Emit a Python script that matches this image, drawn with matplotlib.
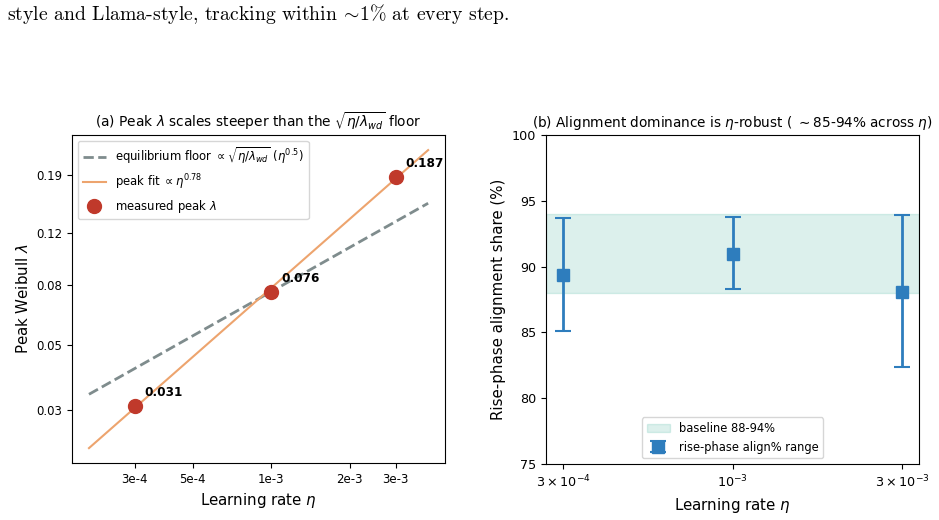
import matplotlib
matplotlib.use('Agg')
import matplotlib.pyplot as plt
import numpy as np
from matplotlib.ticker import NullLocator, FixedLocator, FixedFormatter

plt.rcParams['mathtext.fontset'] = 'dejavusans'

# (a) peak Weibull lambda vs learning rate
lr = [3e-4, 1e-3, 3e-3]
peak_lam = [0.031, 0.076, 0.187]
lr_line = [2e-4, 4e-3]
floor_exp = 0.5
a_xticks = [3e-4, 5e-4, 1e-3, 2e-3, 3e-3]
a_xticklabels = ["3e-4", "5e-4", "1e-3", "2e-3", "3e-3"]
a_yticks = [0.03, 0.05, 0.08, 0.12, 0.19]

# (b) rise-phase alignment share
b_lr_labels = [r"$3\times10^{-4}$", r"$10^{-3}$", r"$3\times10^{-3}$"]
align_mid = [89.4, 91.0, 88.1]
align_lo = [85.1, 88.3, 82.4]
align_hi = [93.7, 93.8, 93.9]
baseline = (88, 94)

fig = plt.figure(figsize=(9.39, 5.2), dpi=100)
fig.text(0.007, 0.962, r"style and Llama-style, tracking within $\!\sim\!$1% at every step.",
         family='cmr10', math_fontfamily='cm', fontsize=14.2, va='baseline', ha='left')

# ---- panel a
ax = fig.add_axes([0.0767, 0.1096, 0.3973, 0.6304])
ax.set_xscale('log')
ax.set_yscale('log')
lx = np.log(lr)
ly = np.log(peak_lam)
slope, icpt = np.polyfit(lx, ly, 1)
eta = np.array(lr_line)
floor = peak_lam[1] * (eta / lr[1]) ** floor_exp
fit = np.exp(icpt) * eta ** slope
ax.plot(eta, floor, '--', color='#7f8c8d', lw=2,
        label=r"equilibrium floor $\propto\sqrt{\eta/\lambda_{wd}}$ ($\eta^{0.5}$)")
ax.plot(eta, fit, '-', color='#eda46e', lw=1.5,
        label=r"peak fit $\propto\eta^{%.2f}$" % slope)
ax.plot(lr, peak_lam, 'o', color='#c0392b', ms=10, ls='none', zorder=5,
        label=r"measured peak $\lambda$")
for x, y in zip(lr, peak_lam):
    ax.annotate("%.3f" % y, (x, y), xytext=(7, 5), textcoords='offset points',
                fontsize=8.7, fontweight='bold', va='bottom', ha='left')
ax.xaxis.set_major_locator(FixedLocator(a_xticks))
ax.xaxis.set_major_formatter(FixedFormatter(a_xticklabels))
ax.xaxis.set_minor_locator(NullLocator())
ax.yaxis.set_major_locator(FixedLocator(a_yticks))
ax.yaxis.set_major_formatter(FixedFormatter(["%.2f" % v for v in a_yticks]))
ax.yaxis.set_minor_locator(NullLocator())
ax.tick_params(labelsize=8.5)
ax.set_xlabel(r"Learning rate $\eta$", fontsize=10.8)
ax.set_ylabel(r"Peak Weibull $\lambda$", fontsize=10.8)
ax.set_title(r"(a) Peak $\lambda$ scales steeper than the $\sqrt{\eta/\lambda_{wd}}$ floor",
             fontsize=9.9)
ax.legend(loc='upper left', fontsize=8.4)

# ---- panel b
bx = fig.add_axes([0.5815, 0.1077, 0.3972, 0.6323])
xpos = np.arange(len(align_mid))
bx.axhspan(baseline[0], baseline[1], color='#16a085', alpha=0.15,
           label="baseline %d-%d%%" % baseline)
err = [np.array(align_mid) - np.array(align_lo), np.array(align_hi) - np.array(align_mid)]
bx.errorbar(xpos, align_mid, yerr=err, fmt='s', color='#2e7dbd', ms=9,
            capsize=6, elinewidth=2, capthick=1.5, label="rise-phase align% range")
bx.set_xticks(xpos)
bx.set_xticklabels(b_lr_labels)
bx.set_xlim(-0.1, 2.1)
bx.set_ylim(75, 100)
bx.tick_params(labelsize=9.2)
bx.set_xlabel(r"Learning rate $\eta$", fontsize=10.8)
bx.set_ylabel("Rise-phase alignment share (%)", fontsize=10.8)
bx.set_title(r"(b) Alignment dominance is $\eta$-robust ( $\sim$85-94% across $\eta$)",
             fontsize=9.8)
bx.legend(loc='lower center', fontsize=8.3)

fig.savefig('out.png', dpi=100)
